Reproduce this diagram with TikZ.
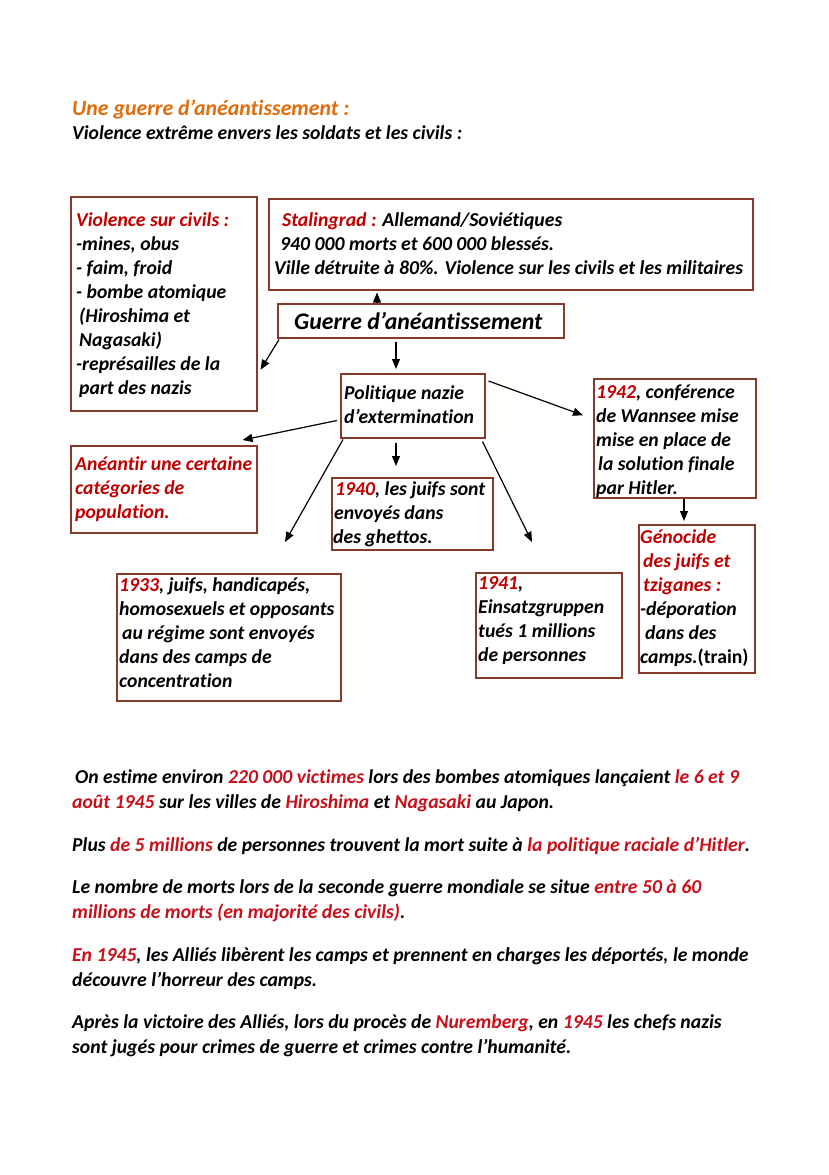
\documentclass[tikz,border=0pt]{standalone}
\usepackage{fontspec}
\setmainfont[Ligatures={NoCommon,NoContextual},Contextuals=NoAlternate]{Carlito}
\usetikzlibrary{arrows.meta,calc}
\definecolor{rd}{HTML}{C00000}
\definecolor{rdb}{HTML}{C8101A}
\definecolor{brd}{HTML}{843C28}
\definecolor{org}{HTML}{E36C0A}
\newcommand{\nsk}{\spaceskip=0pt\xspaceskip=0pt\relax}
\begin{document}
\begin{tikzpicture}[x=1pt,y=-1pt,
  frame/.style={draw=brd, line width=1.5pt, anchor=north west, inner sep=0pt},
  txt/.style={anchor=west, align=left, inner sep=0pt, text width=480pt,
    font=\fontsize{19.7}{24}\selectfont\bfseries\itshape},
  arr/.style={-{Triangle[length=10pt,width=8pt]}, line width=1.2pt},
  para/.style={anchor=base west, inner sep=0pt, font=\fontsize{19.7}{24}\selectfont\bfseries\itshape}]
\useasboundingbox[fill=white] (0,0) rectangle (828,1175);

% titles
\node[para, text=org, font=\fontsize{21.8}{26}\selectfont\bfseries\itshape] (t1) at (72,115) {Une guerre d’anéantissement :};
\node[para] (t2) at (72,139) {Violence extrême envers les soldats et les civils :};

% boxes
\node[frame, minimum width=186pt, minimum height=214pt] (civ) at (70,196) {};
\node[txt] (civt) at ($(civ.west)+(6,1)$)
  {\nsk\textcolor{rd}{Violence sur civils :}\\-mines, obus\\- faim, froid\\- bombe atomique\\\hspace*{3pt}(Hiroshima et\\\hspace*{3pt}Nagasaki)\\-représailles de la\\\hspace*{3pt}part des nazis};

\node[frame, minimum width=484pt, minimum height=91pt] (stal) at (268,198) {};
\node[txt] (stalt) at ($(stal.west)+(6,-1)$)
  {\nsk\hspace*{8pt}\textcolor{rd}{Stalingrad :} Allemand/Soviétiques\\\hspace*{6pt}940 000 morts et 600 000 blessés.\\Ville détruite à 80\%. Violence sur les civils et les militaires};

\node[frame, minimum width=286pt, minimum height=34pt] (guerre) at (277,303) {};
\node[anchor=west, inner sep=0pt, font=\fontsize{23.8}{26}\selectfont\bfseries\itshape] (guerret) at ($(guerre.west)+(17,0)$)
  {Guerre d’anéantissement};

\node[frame, minimum width=144pt, minimum height=64pt] (pol) at (340,373) {};
\node[txt] (polt) at ($(pol.west)+(4,-1)$) {\nsk Politique nazie\\d’extermination};

\node[frame, minimum width=162pt, minimum height=119pt] (w42) at (593,378) {};
\node[txt] (w42t) at ($(w42.west)+(3,2.5)$)
  {\nsk\textcolor{rd}{1942}, conférence\\de Wannsee mise\\mise en place de\\\hspace*{2pt}la solution finale\\par Hitler.};

\node[frame, minimum width=116pt, minimum height=148pt] (gen) at (638,524) {};
\node[txt] (gent) at ($(gen.west)+(2,-1)$)
  {\nsk\textcolor{rd}{Génocide}\\\hspace*{3pt}\textcolor{rd}{des juifs et}\\\hspace*{3pt}\textcolor{rd}{tziganes :}\\-déporation\\\hspace*{5pt}dans des\\camps.\upshape(train)};

\node[frame, minimum width=186pt, minimum height=87pt] (ana) at (70,445) {};
\node[txt, text=rd] (anat) at ($(ana.west)+(5,0)$)
  {\nsk Anéantir une certaine\\catégories de\\population.};

\node[frame, minimum width=161pt, minimum height=72pt] (j40) at (331,477) {};
\node[txt] (j40t) at ($(j40.west)+(2,0)$)
  {\nsk\hspace*{2pt}\textcolor{rd}{1940}, les juifs sont\\\hspace*{1pt}envoyés dans\\des ghettos.};

\node[frame, minimum width=224pt, minimum height=127pt] (j33) at (116,573) {};
\node[txt] (j33t) at ($(j33.west)+(3,-4.5)$)
  {\nsk\textcolor{rd}{1933}, juifs, handicapés,\\homosexuels et opposants\\\hspace*{3pt}au régime sont envoyés\\dans des camps de\\concentration};

\node[frame, minimum width=146pt, minimum height=105pt] (j41) at (475,572) {};
\node[txt] (j41t) at ($(j41.west)+(3,-4.5)$)
  {\nsk\textcolor{rd}{1941},\\Einsatzgruppen\\tués 1 millions\\de personnes};

% connectors
\draw[arr] ($(guerre.north west)+(100,0)$) -- ($(stal.south west)+(109,2)$);
\draw[arr] ($(guerre.south west)+(2,1)$) -- ($(civ.east)+(3,66)$);
\draw[arr] ($(guerre.south west)+(119,3)$) -- ($(pol.north west)+(56,-4)$);
\draw[arr] ($(pol.north east)+(3,8)$) -- ($(w42.west)+(-10,-23)$);
\draw[arr] ($(w42.south west)+(91,0)$) -- ($(gen.north west)+(46,-3)$);
\draw[arr] ($(pol.south west)+(-3,-18)$) -- ($(ana.north east)+(-15,-5)$);
\draw[arr] ($(pol.south west)+(56,4)$) -- ($(j40.north west)+(65,-11)$);
\draw[arr] ($(pol.south west)+(3,1)$) -- ($(j33.north west)+(169,-31)$);
\draw[arr] ($(pol.south east)+(-3,3)$) -- ($(j41.north west)+(57,-30)$);

% paragraphs
\node[para] (p1) at (72,783) {\hspace*{3pt}On estime environ \textcolor{rdb}{220 000 victimes} lors des bombes atomiques lançaient \textcolor{rdb}{le 6 et 9}};
\node[para] (p2) at (72,808) {\textcolor{rdb}{août 1945} sur les villes de \textcolor{rdb}{Hiroshima} et \textcolor{rdb}{Nagasaki} au Japon.};
\node[para] (p3) at (72,851) {Plus \textcolor{rdb}{de 5 millions} de personnes trouvent la mort suite à \textcolor{rdb}{la politique raciale d’Hitler}.};
\node[para] (p4) at (72,893) {Le nombre de morts lors de la seconde guerre mondiale se situe \textcolor{rdb}{entre 50 à 60}};
\node[para] (p5) at (72,918) {\textcolor{rdb}{millions de morts (en majorité des civils)}.};
\node[para] (p6) at (72,961) {\textcolor{rdb}{En 1945}, les Alliés libèrent les camps et prennent en charges les déportés, le monde};
\node[para] (p7) at (72,986) {découvre l’horreur des camps.};
\node[para] (p8) at (72,1028) {Après la victoire des Alliés, lors du procès de \textcolor{rdb}{Nuremberg}, en \textcolor{rdb}{1945} les chefs nazis};
\node[para] (p9) at (72,1053) {sont jugés pour crimes de guerre et crimes contre l’humanité.};
\end{tikzpicture}
\end{document}
